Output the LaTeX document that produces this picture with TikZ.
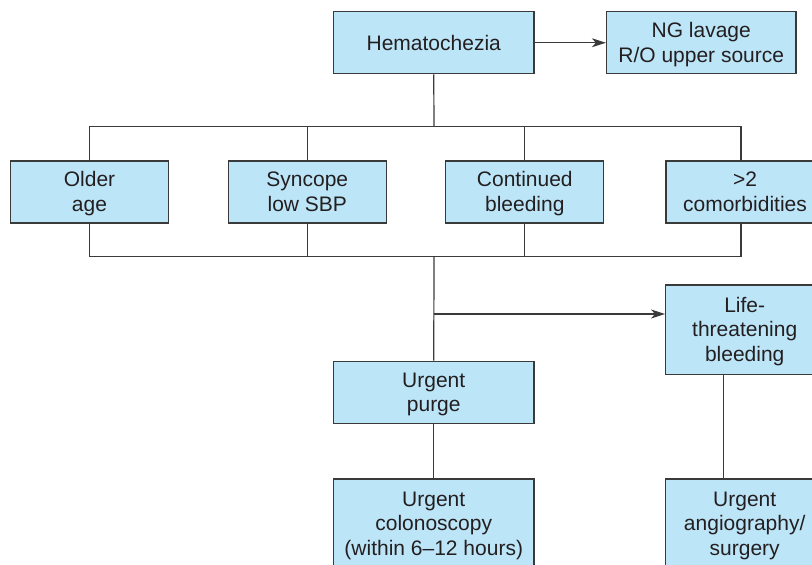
\documentclass[tikz,border=0pt]{standalone}
\usepackage{fontspec}
\setmainfont{Liberation Sans}
\usetikzlibrary{arrows.meta,calc}
\definecolor{boxfill}{HTML}{BDE5F8}
\definecolor{edge}{HTML}{3A3A3A}
\definecolor{ink}{HTML}{231F20}
% uniform line box so every row of text sits at the same height
\newcommand{\tstrut}{\rule[-5.1pt]{0pt}{24.7pt}}
\begin{document}
\begin{tikzpicture}[x=1pt,y=-1pt,
  every node/.style={font=\fontsize{21}{24.7}\selectfont, text=ink},
  flowbox/.style={draw=edge, fill=boxfill, line width=1.3pt, align=center,
    inner sep=0pt, minimum height=62pt},
  widebox/.style={flowbox, minimum width=200.5pt},
  midbox/.style={flowbox, minimum width=158pt},
  tallbox/.style={flowbox, minimum width=158pt, minimum height=89.3pt},
  link/.style={draw=edge, line width=1.2pt},
  tip/.style={link, -{Stealth[length=14pt,width=9pt,inset=4pt]}}]
\useasboundingbox (0,0) rectangle (812,565);
\clip (0,0) rectangle (812,565);

% top row
\node[widebox] (hem) at (433.75,42.75) {\tstrut Hematochezia};
\node[flowbox, minimum width=189.5pt] (ng) at (701.25,42.75) {\tstrut NG lavage\\\tstrut R/O upper source};

% risk factors
\node[midbox] (older) at (89.5,191.9) {\tstrut Older\\\tstrut age};
\node[midbox] (sync) at (307.3,191.9) {\tstrut Syncope\\\tstrut low SBP};
\node[midbox] (cont) at (524.8,191.9) {\tstrut Continued\\\tstrut bleeding};
\node[midbox] (comorb) at (745,191.9) {\tstrut >2\\\tstrut comorbidities};

% management
\node[tallbox] (life) at (744.7,329.65) {\tstrut Life-\\\tstrut threatening\\\tstrut bleeding};
\node[widebox] (purge) at (433.75,392.2) {\tstrut Urgent\\\tstrut purge};
\node[flowbox, minimum width=200.5pt, minimum height=89.3pt] (colo) at (433.75,523.65) {\tstrut Urgent\\\tstrut colonoscopy\\\tstrut (within 6--12 hours)};
\node[tallbox] (angio) at (744.7,523.65) {\tstrut Urgent\\\tstrut angiography/\\\tstrut surgery};

% bus junctions
\coordinate (topmid) at (434,126.7);
\coordinate (botmid) at (434,256.7);
\coordinate (split) at (434,314);
\coordinate (comorbtop) at (741,160.9);
\coordinate (comorbbot) at (741,222.9);
\coordinate (lifebot) at (723.3,374.3);
\coordinate (angiotop) at (723.3,479);

% connectors
\draw[tip] (hem.east) -- (ng.west);
\draw[link] (hem.south) -- (topmid);
\draw[link] (older.north) |- (comorbtop |- topmid) -- (comorbtop);
\draw[link] (sync.north) -- (sync.north |- topmid);
\draw[link] (cont.north) -- (cont.north |- topmid);
\draw[link] (older.south) |- (comorbbot |- botmid) -- (comorbbot);
\draw[link] (sync.south) -- (sync.south |- botmid);
\draw[link] (cont.south) -- (cont.south |- botmid);
\draw[link] (botmid) -- (purge.north);
\draw[tip] (split) -- (split -| life.west);
\draw[link] (purge.south) -- (colo.north);
\draw[link] (lifebot) -- (angiotop);
\end{tikzpicture}
\end{document}
